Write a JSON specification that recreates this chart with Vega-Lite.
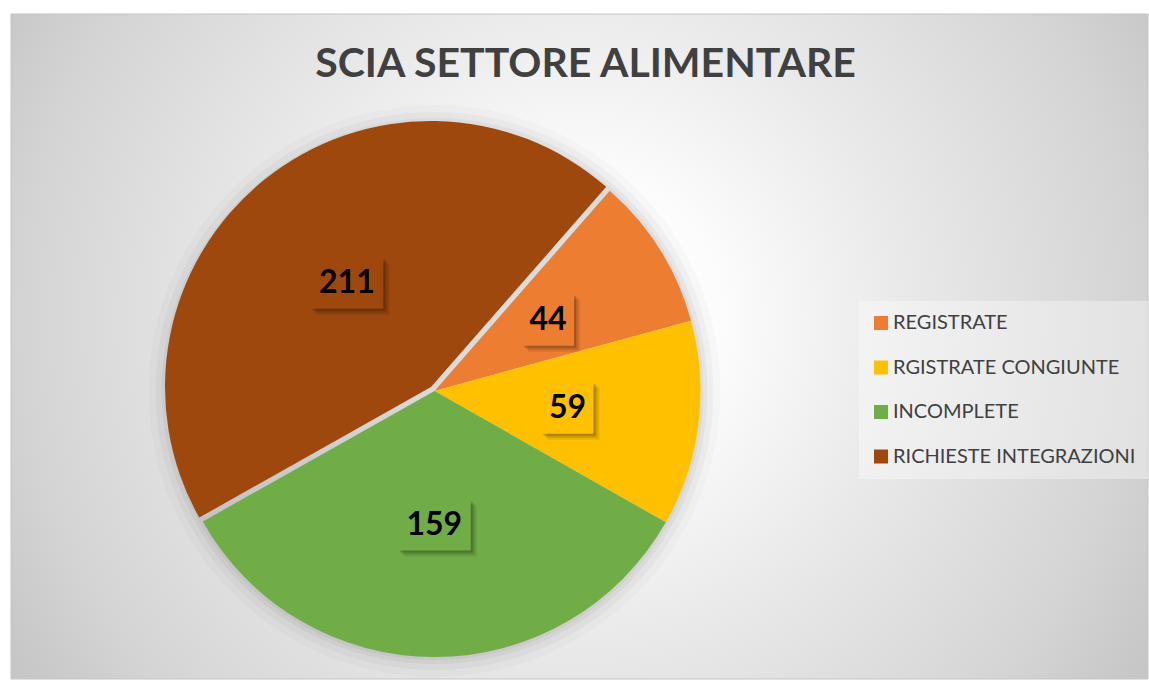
{
  "$schema": "https://vega.github.io/schema/vega-lite/v6.json",
  "width": 1149,
  "height": 680,
  "autosize": {"type": "fit", "contains": "padding"},
  "padding": {"left": 10, "top": 13, "right": 0, "bottom": 0},
  "background": "#ffffff",
  "config": {"view": {"stroke": null}, "font": "Lato"},
  "title": {
    "text": "SCIA SETTORE ALIMENTARE",
    "font": "Lato",
    "fontSize": 41,
    "fontWeight": "bold",
    "color": "#404040",
    "anchor": "middle",
    "frame": "group",
    "baseline": "alphabetic",
    "offset": -104,
    "dx": 6
  },
  "data": {
    "values": [
      {"cat": "REGISTRATE", "value": 44, "ord": 1},
      {"cat": "RGISTRATE CONGIUNTE", "value": 59, "ord": 2},
      {"cat": "INCOMPLETE", "value": 159, "ord": 3},
      {"cat": "RICHIESTE INTEGRAZIONI", "value": 211, "ord": 4}
    ]
  },
  "transform": [
    {"window": [{"op": "sum", "field": "value", "as": "cum"}], "sort": [{"field": "ord"}], "frame": [null, 0]},
    {"joinaggregate": [{"op": "sum", "field": "value", "as": "total"}]},
    {"calculate": "0.719 + 2*PI*(datum.cum - datum.value/2)/datum.total", "as": "mid"},
    {"calculate": "datum.cat === 'RICHIESTE INTEGRAZIONI' ? 1.037 : 1", "as": "k"},
    {"calculate": "sin(datum.mid)*datum.k", "as": "ux"},
    {"calculate": "-cos(datum.mid)*datum.k", "as": "uy"}
  ],
  "layer": [
    {
      "data": {"values": [{}]},
      "mark": {
        "type": "rect",
        "fill": {
          "gradient": "radial",
          "x1": 0.5, "y1": 0.475, "r1": 0,
          "x2": 0.5, "y2": 0.475, "r2": 0.62,
          "stops": [
            {"offset": 0, "color": "#ffffff"},
            {"offset": 0.2, "color": "#fcfcfc"},
            {"offset": 0.45, "color": "#eaeaea"},
            {"offset": 0.79, "color": "#d4d4d4"},
            {"offset": 0.92, "color": "#c8c8c8"},
            {"offset": 1, "color": "#c2c2c2"}
          ]
        },
        "stroke": "#c4c4c4",
        "strokeWidth": 1
      },
      "encoding": {
        "x": {"value": 0},
        "x2": {"value": "width"},
        "y": {"value": 0},
        "y2": {"value": "height"}
      }
    },
    {
      "data": {"values": [{}]},
      "mark": {"type": "arc", "theta": 6.2832, "radius": 286, "fill": "#000000", "opacity": 0.02},
      "encoding": {
        "x": {"datum": 0, "type": "quantitative", "scale": {"domain": [-1, 1], "range": [289.5, 557.5], "zero": false, "nice": false}, "axis": null},
        "y": {"datum": 0, "type": "quantitative", "scale": {"domain": [-1, 1], "range": [243, 511], "zero": false, "nice": false}, "axis": null}
      }
    },
    {
      "data": {"values": [{}]},
      "mark": {"type": "arc", "theta": 6.2832, "radius": 279, "fill": "#000000", "opacity": 0.03},
      "encoding": {
        "x": {"datum": 0, "type": "quantitative", "axis": null},
        "y": {"datum": 0, "type": "quantitative", "axis": null}
      }
    },
    {
      "data": {"values": [{}]},
      "mark": {"type": "arc", "theta": 6.2832, "radius": 273, "fill": "#000000", "opacity": 0.04},
      "encoding": {
        "x": {"datum": 0, "type": "quantitative", "axis": null},
        "y": {"datum": 0, "type": "quantitative", "axis": null}
      }
    },
    {
      "data": {"values": [{}]},
      "mark": {"type": "arc", "theta": 6.2832, "radius": 269, "fill": "#000000", "opacity": 0.04},
      "encoding": {
        "x": {"datum": 0, "type": "quantitative", "axis": null},
        "y": {"datum": 0, "type": "quantitative", "axis": null}
      }
    },
    {
      "mark": {"type": "arc", "radius": 266},
      "encoding": {
        "theta": {"field": "value", "type": "quantitative", "stack": true, "scale": {"range": [0.719, 7.0022]}},
        "order": {"field": "ord", "type": "quantitative"},
        "color": {
          "field": "cat", "type": "nominal",
          "scale": {
            "domain": ["REGISTRATE", "RGISTRATE CONGIUNTE", "INCOMPLETE", "RICHIESTE INTEGRAZIONI"],
            "range": ["#ED7D31", "#FFC000", "#70AD47", "#9E480E"]
          },
          "legend": {
            "orient": "none", "legendX": 848, "legendY": 287, "title": null,
            "symbolType": "square", "symbolSize": 196, "symbolStrokeWidth": 0, "symbolOpacity": 1,
            "labelFont": "Lato", "labelFontSize": 20, "labelColor": "#404040", "labelLimit": 400,
            "labelOffset": 2, "rowPadding": 24.5, "padding": 12,
            "fillColor": "rgba(255,255,255,0.35)"
          }
        },
        "opacity": {"condition": {"test": "datum.cat === 'RICHIESTE INTEGRAZIONI'", "value": 0}, "value": 1},
        "x": {"datum": 0, "type": "quantitative", "axis": null},
        "y": {"datum": 0, "type": "quantitative", "axis": null}
      }
    },
    {
      "mark": {"type": "arc", "radius": 266, "xOffset": -3.5, "yOffset": -4},
      "encoding": {
        "theta": {"field": "value", "type": "quantitative", "stack": true},
        "order": {"field": "ord", "type": "quantitative"},
        "color": {"field": "cat", "type": "nominal", "legend": null},
        "opacity": {"condition": {"test": "datum.cat === 'RICHIESTE INTEGRAZIONI'", "value": 1}, "value": 0},
        "x": {"datum": 0, "type": "quantitative", "axis": null},
        "y": {"datum": 0, "type": "quantitative", "axis": null}
      }
    },
    {
      "mark": {"type": "point", "filled": true, "color": "#000000", "opacity": 0.08, "xOffset": 6, "yOffset": 6, "strokeWidth": 0},
      "encoding": {
        "x": {"field": "ux", "type": "quantitative", "axis": null},
        "y": {"field": "uy", "type": "quantitative", "axis": null},
        "shape": {"condition": {"test": "datum.value >= 100", "value": "M-1,-0.7L1,-0.7L1,0.7L-1,0.7Z"}, "value": "square"},
        "size": {"condition": {"test": "datum.value >= 100", "value": 5329}, "value": 2704}
      }
    },
    {
      "mark": {"type": "point", "filled": true, "color": "#000000", "opacity": 0.12, "xOffset": 4, "yOffset": 4, "strokeWidth": 0},
      "encoding": {
        "x": {"field": "ux", "type": "quantitative", "axis": null},
        "y": {"field": "uy", "type": "quantitative", "axis": null},
        "shape": {"condition": {"test": "datum.value >= 100", "value": "M-1,-0.7L1,-0.7L1,0.7L-1,0.7Z"}, "value": "square"},
        "size": {"condition": {"test": "datum.value >= 100", "value": 5329}, "value": 2704}
      }
    },
    {
      "mark": {"type": "point", "filled": true, "color": "#000000", "opacity": 0.16, "xOffset": 2, "yOffset": 2, "strokeWidth": 0},
      "encoding": {
        "x": {"field": "ux", "type": "quantitative", "axis": null},
        "y": {"field": "uy", "type": "quantitative", "axis": null},
        "shape": {"condition": {"test": "datum.value >= 100", "value": "M-1,-0.7L1,-0.7L1,0.7L-1,0.7Z"}, "value": "square"},
        "size": {"condition": {"test": "datum.value >= 100", "value": 5329}, "value": 2704}
      }
    },
    {
      "mark": {"type": "point", "filled": true, "opacity": 1, "strokeWidth": 0},
      "encoding": {
        "x": {"field": "ux", "type": "quantitative", "axis": null},
        "y": {"field": "uy", "type": "quantitative", "axis": null},
        "color": {"field": "cat", "type": "nominal", "legend": null},
        "shape": {"condition": {"test": "datum.value >= 100", "value": "M-1,-0.7L1,-0.7L1,0.7L-1,0.7Z"}, "value": "square"},
        "size": {"condition": {"test": "datum.value >= 100", "value": 5329}, "value": 2704}
      }
    },
    {
      "mark": {"type": "text", "font": "Lato", "fontSize": 32, "fontWeight": "bold", "color": "#000000", "align": "center", "baseline": "middle"},
      "encoding": {
        "x": {"field": "ux", "type": "quantitative", "axis": null},
        "y": {"field": "uy", "type": "quantitative", "axis": null},
        "text": {"field": "value", "type": "quantitative"}
      }
    }
  ]
}
